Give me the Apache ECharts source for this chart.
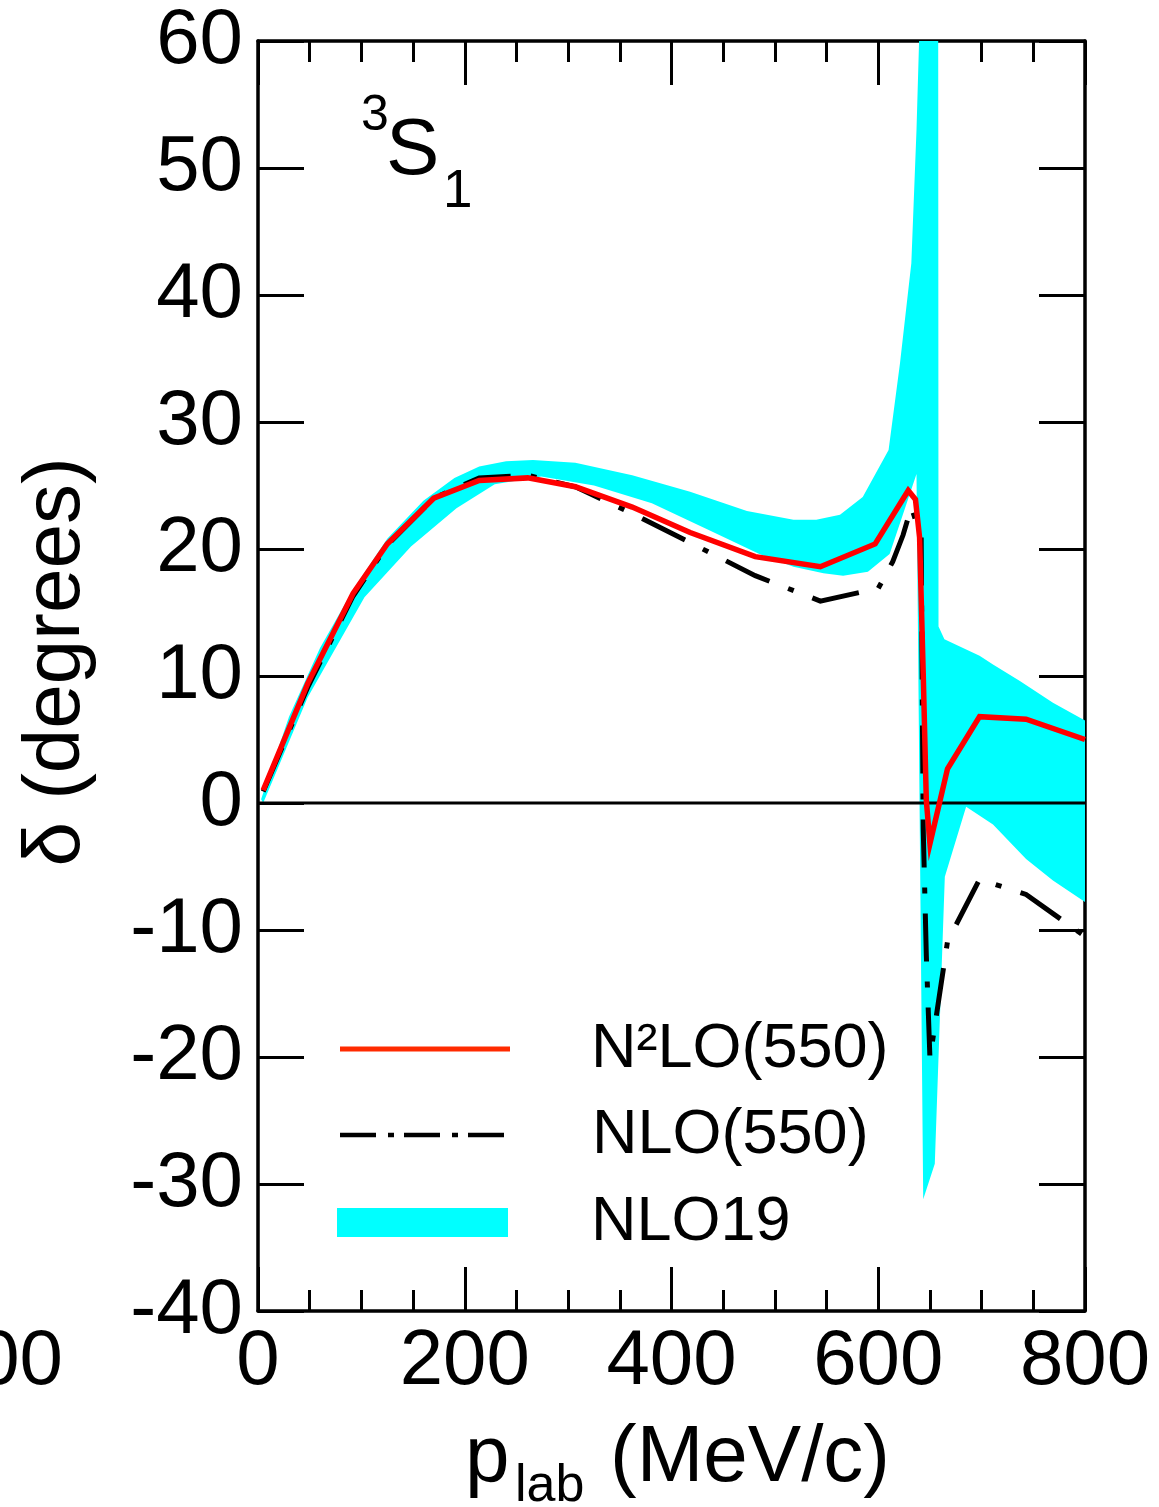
<!DOCTYPE html>
<html>
<head>
<meta charset="utf-8">
<script src="https://cdn.jsdelivr.net/npm/echarts@6/dist/echarts.min.js"></script>
<style>
html,body{margin:0;padding:0;background:#fff;}
#chart{width:1159px;height:1507px;}
</style>
</head>
<body>
<div id="chart"></div>
<script>
// ---- data (p_lab in MeV/c, delta in degrees) ----
const xTicks = [0, 200, 400, 600, 800];
const yTicks = [-40, -30, -20, -10, 0, 10, 20, 30, 40, 50, 60];

const n2lo550 = [
  [5,1.0],[48,9.4],[92,16.5],[125,20.4],[170,24.0],[214,25.4],[261,25.6],[307,24.9],
  [362,23.3],[418,21.3],[481,19.4],[544,18.6],[597,20.4],[629,24.6],[636,23.9],
  [640,20.9],[643.5,10.2],[646.5,0.2],[650,-3.2],[667,2.7],[698,6.8],[743,6.6],[800,5.0]
];

const nlo550 = [
  [5,0.9],[48,9.1],[92,16.3],[125,20.3],[170,24.0],[214,25.6],[261,25.8],[307,24.9],
  [362,22.8],[418,20.5],[481,17.9],[544,15.9],[600,16.9],[614,19.0],[624,21.1],[632,23.3],
  [641.5,20.9],[643.5,-2.0],[646.5,-12.0],[650,-20.1],[667,-10.9],[698,-6.0],[743,-7.2],[800,-10.5]
];

const nlo19Upper = [
  [3,0.3],[30,6.8],[60,12.2],[92,16.8],[125,20.8],[160,23.8],[190,25.6],[214,26.5],
  [240,26.9],[266,27.0],[307,26.8],[362,25.8],[418,24.5],[473,23.0],[518,22.3],[540,22.3],
  [563,22.7],[585,24.1],[610,27.8],[621,34.6],[632,42.5],[637,53.0],[639.5,60],[658,60],
  [658.3,13.9],[664,12.9],[682,12.2],[698,11.6],[711,10.9],[737,9.6],[769,7.9],[800,6.5]
];

const nlo19Lower = [
  [5,0.0],[48,8.3],[103,16.2],[148,20.2],[192,23.2],[229,25.1],[274,25.7],[325,25.0],
  [381,23.6],[436,21.5],[485,19.6],[518,18.6],[547,18.1],[566,17.9],[590,18.2],[611,19.6],
  [637,25.9],[643.5,-31.2],[654.7,-28.4],[664.4,-5.8],[685,-0.3],[711,-1.7],[743,-4.4],
  [769,-6.1],[800,-7.8]
];

const zeroLine = [[0,0],[800,0]];

const legendNames = ['N\u00b2LO(550)', 'NLO(550)', 'NLO19'];

// ---- chart ----
const FONT = '"Liberation Sans", Arial, Helvetica, sans-serif';
const chart = echarts.init(document.getElementById('chart'), null, {renderer:'canvas'});

function axisLine(){ return {show:true, onZero:false, lineStyle:{color:'#000', width:3.5}}; }

const option = {
  backgroundColor:'#fff',
  animation:false,
  grid:{left:258, top:41, width:827, height:1270, containLabel:false},
  xAxis:[
    {
      type:'value', position:'bottom', min:0, max:800, interval:200,
      axisLine:axisLine(), splitLine:{show:false},
      axisTick:{show:true, inside:true, length:44, lineStyle:{color:'#000', width:3}},
      minorTick:{show:true, splitNumber:4, length:21, lineStyle:{color:'#000', width:3}},
      axisLabel:{show:true, margin:12, fontSize:78, color:'#000', fontFamily:FONT,
                 showMinLabel:true, showMaxLabel:true,
                 formatter:function(v){return xTicks.indexOf(v)>=0 ? String(v) : '';}}
    },
    {
      type:'value', position:'top', min:0, max:800, interval:200,
      axisLine:axisLine(), splitLine:{show:false},
      axisTick:{show:true, inside:true, length:44, lineStyle:{color:'#000', width:3}},
      minorTick:{show:true, splitNumber:4, length:21, lineStyle:{color:'#000', width:3}},
      axisLabel:{show:false}
    }
  ],
  yAxis:[
    {
      type:'value', position:'left', min:-40, max:60, interval:10,
      axisLine:axisLine(), splitLine:{show:false},
      axisTick:{show:true, inside:true, length:46, lineStyle:{color:'#000', width:3}},
      axisLabel:{show:true, margin:15, fontSize:78, color:'#000', fontFamily:FONT,
                 showMinLabel:true, showMaxLabel:true,
                 formatter:function(v){return yTicks.indexOf(v)>=0 ? String(v) : '';}}
    },
    {
      type:'value', position:'right', min:-40, max:60, interval:10,
      axisLine:axisLine(), splitLine:{show:false},
      axisTick:{show:true, inside:true, length:46, lineStyle:{color:'#000', width:3}},
      axisLabel:{show:false}
    }
  ],
  series:[
    {
      name:legendNames[2],
      type:'custom',
      xAxisIndex:0, yAxisIndex:0,
      clip:true,
      silent:true,
      z:1,
      data:[[0,0]],
      renderItem:function(params, api){
        const pts = [];
        for (let i=0;i<nlo19Upper.length;i++) pts.push(api.coord(nlo19Upper[i]));
        for (let i=nlo19Lower.length-1;i>=0;i--) pts.push(api.coord(nlo19Lower[i]));
        return {type:'polygon', shape:{points:pts}, style:{fill:'#00ffff', stroke:null}};
      }
    },
    {
      type:'line', data:zeroLine, showSymbol:false, symbol:'none', silent:true, z:2,
      lineStyle:{color:'#000', width:3}
    },
    {
      name:legendNames[1],
      type:'line', data:nlo550, showSymbol:false, symbol:'none', silent:true, z:3,
      lineStyle:{color:'#000', width:5, type:[48,20,6,20], cap:'butt', join:'miter'}
    },
    {
      name:legendNames[0],
      type:'line', data:n2lo550, showSymbol:false, symbol:'none', silent:true, z:4,
      lineStyle:{color:'#ff0000', width:5.5, join:'miter'}
    }
  ],
  graphic:[
    // partial tick label of the neighbouring panel
    {type:'text', x:63, y:1362, style:{text:'800', font:'78px '+FONT, fill:'#000', align:'right', verticalAlign:'middle'}},
    // panel label 3S1
    {type:'text', x:361, y:116, style:{text:'3', font:'50px '+FONT, fill:'#000', align:'left', verticalAlign:'middle'}},
    {type:'text', x:386, y:152, style:{text:'S', font:'80px '+FONT, fill:'#000', align:'left', verticalAlign:'middle'}},
    {type:'text', x:443, y:192, style:{text:'1', font:'53px '+FONT, fill:'#000', align:'left', verticalAlign:'middle'}},
    // legend
    {type:'line', shape:{x1:340, y1:1049, x2:510, y2:1049}, style:{stroke:'#ff2a00', lineWidth:5}},
    {type:'line', shape:{x1:340, y1:1135, x2:505, y2:1135}, style:{stroke:'#000', lineWidth:4.5, lineDash:[36,12,6,10]}},
    {type:'rect', shape:{x:337, y:1208, width:171, height:29}, style:{fill:'#00ffff'}},
    {type:'text', x:591, y:1050, style:{text:legendNames[0], font:'63px '+FONT, fill:'#000', align:'left', verticalAlign:'middle'}},
    {type:'text', x:592, y:1136, style:{text:legendNames[1], font:'63px '+FONT, fill:'#000', align:'left', verticalAlign:'middle'}},
    {type:'text', x:591, y:1223, style:{text:legendNames[2], font:'63px '+FONT, fill:'#000', align:'left', verticalAlign:'middle'}},
    // x axis title
    {type:'text', x:465, y:1459, style:{text:'p', font:'80px '+FONT, fill:'#000', align:'left', verticalAlign:'middle'}},
    {type:'text', x:515, y:1487, style:{text:'lab', font:'52px '+FONT, fill:'#000', align:'left', verticalAlign:'middle'}},
    {type:'text', x:610, y:1459, style:{text:'(MeV/c)', font:'80px '+FONT, fill:'#000', align:'left', verticalAlign:'middle'}},
    // y axis title
    {type:'text', x:57, y:662, rotation:Math.PI/2, style:{text:'\u03b4 (degrees)', font:'80px '+FONT, fill:'#000', align:'center', verticalAlign:'middle'}}
  ]
};
chart.setOption(option);
</script>
</body>
</html>
